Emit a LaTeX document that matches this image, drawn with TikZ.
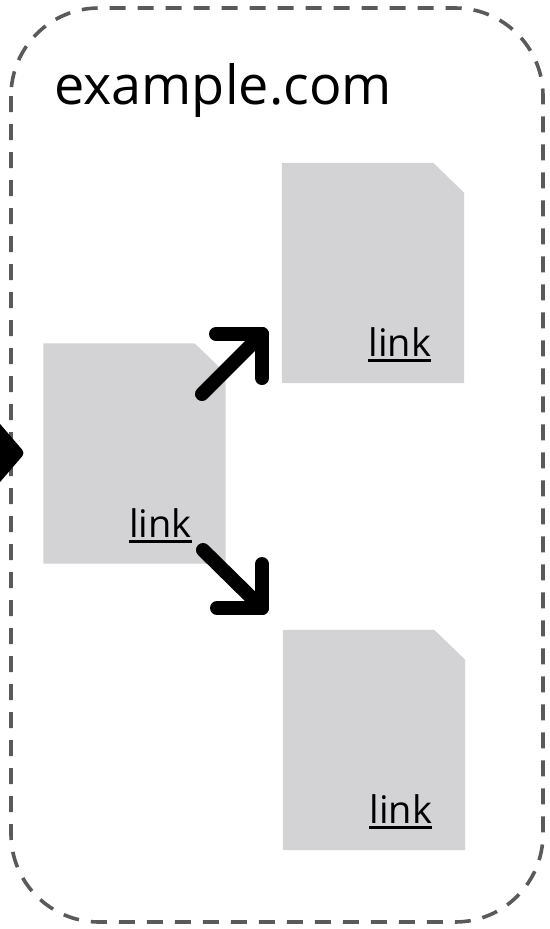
\documentclass[tikz,border=0pt]{standalone}
\usepackage{fontspec}
\setmainfont{Open Sans}
\definecolor{docgray}{RGB}{211,211,213}
\definecolor{framegray}{RGB}{90,90,90}
\tikzset{
  docbox/.style={rectangle, draw=none, minimum width=182pt, minimum height=220pt, inner sep=0pt},
  linktext/.style={inner sep=0pt, anchor=base east, font=\fontsize{38}{44}\selectfont},
  fatarrow/.style={line width=14pt, line cap=round, line join=round, black},
  frame/.style={draw=framegray, line width=3.6pt, dash pattern=on 16pt off 12pt, rounded corners=88pt},
}
\newcommand{\docshape}[1]{%
  \fill[docgray] (#1.south west) -- (#1.north west) -- ([xshift=-31pt]#1.north east) -- ([yshift=-30pt]#1.north east) -- (#1.south east) -- cycle;}
\newcommand{\linkul}[1]{%
  \draw[line width=3pt] ([yshift=-4pt]#1.base west) -- ([yshift=-4pt]#1.base east);}
\begin{document}
\begin{tikzpicture}[x=1pt,y=-1pt]
\useasboundingbox (0,0) rectangle (549,929);
\begin{scope}
\clip (0,0) rectangle (549,929);
% frame
\node[inner sep=0pt, anchor=base west, font=\fontsize{54}{62}\selectfont] (title) at (54,104) {example.com};
\path[frame] (11,8) rectangle (543,922);
% docs
\node[docbox] (d1) at (134.5,453.5) {};
\node[docbox] (d2) at (373,273) {};
\node[docbox] (d3) at (374,740) {};
\docshape{d1}
\docshape{d2}
\docshape{d3}
\node[linktext] (l1) at ([xshift=-34pt,yshift=26pt]d1.south east) {link};
\node[linktext] (l2) at ([xshift=-33pt,yshift=27pt]d2.south east) {link};
\node[linktext] (l3) at ([xshift=-33pt,yshift=27pt]d3.south east) {link};
\linkul{l1}
\linkul{l2}
\linkul{l3}
% incoming arrow (cut at the left edge)
\coordinate (inTip) at (25,453);
\fill[black, rounded corners=4pt] (-12,410) -- (inTip) -- (-12,496) -- cycle;
% arrow to d2
\coordinate (a1s) at (202,394);
\coordinate (a1t) at (262,334);
\draw[fatarrow] (a1s) -- (a1t);
\draw[fatarrow] ([xshift=-46pt]a1t) -- (a1t) -- ([yshift=-44pt]a1t);
% arrow to d3
\coordinate (a2s) at (203,550);
\coordinate (a2t) at (262,608);
\draw[fatarrow] (a2s) -- (a2t);
\draw[fatarrow] ([xshift=-45pt]a2t) -- (a2t) -- ([yshift=44pt]a2t);
\end{scope}
\end{tikzpicture}
\end{document}
